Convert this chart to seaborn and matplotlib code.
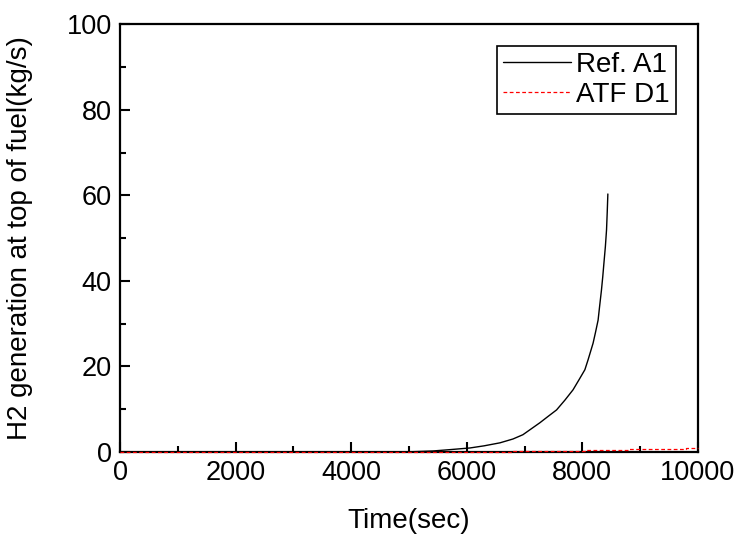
import numpy as np
import pandas as pd
import matplotlib
matplotlib.use('Agg')
import matplotlib.pyplot as plt
import seaborn as sns
from matplotlib.ticker import MultipleLocator

# Ref. A1 curve
ref_time = [0, 5000, 5415, 5700, 6055, 6300, 6574, 6800, 6972, 7266, 7400, 7555,
            7700, 7840, 7950, 8045, 8100, 8187, 8230, 8274, 8300, 8332, 8355,
            8374, 8400, 8420, 8432, 8443]
ref_h2 = [0, 0, 0.2, 0.5, 0.9, 1.4, 2.1, 3.0, 4.0, 6.8, 8.2, 9.8,
          12.1, 14.5, 17.0, 19.2, 21.5, 25.4, 28.0, 30.8, 34.0, 37.8, 41.0,
          44.0, 48.0, 51.9, 56.0, 60.3]

# ATF D1 curve (stepwise, very small)
atf_time = [0, 6800, 8070, 8800, 9000, 9800, 10000]
atf_h2 = [0, 0.15, 0.35, 0.55, 0.75, 1.0, 1.0]

sns.set_theme(style='ticks')
plt.rcParams['font.family'] = ['Liberation Sans', 'DejaVu Sans']
plt.rcParams['text.color'] = 'black'
plt.rcParams['axes.labelcolor'] = 'black'

fig, ax = plt.subplots(figsize=(7.56, 5.51), dpi=100)
fig.subplots_adjust(left=0.159, right=0.923, bottom=0.180, top=0.956)

sns.lineplot(x=ref_time, y=ref_h2, ax=ax, color='black', lw=1.0,
             estimator=None, sort=False, label='Ref. A1')
sns.lineplot(x=atf_time, y=atf_h2, ax=ax, color='red', lw=0.9,
             estimator=None, sort=False, label='ATF D1',
             drawstyle='steps-post', linestyle=(0, (3, 2)),
             clip_on=False, zorder=5)

ax.set_xlim(0, 10000)
ax.set_ylim(0, 100)
ax.xaxis.set_major_locator(MultipleLocator(2000))
ax.xaxis.set_minor_locator(MultipleLocator(1000))
ax.yaxis.set_major_locator(MultipleLocator(20))
ax.yaxis.set_minor_locator(MultipleLocator(10))
ax.tick_params(which='both', direction='in', labelsize=19.5, width=1.5,
               colors='black', labelcolor='black')
ax.tick_params(which='major', length=7, pad=6)
ax.tick_params(which='minor', length=4)

for sp in ax.spines.values():
    sp.set_linewidth(1.6)
    sp.set_color('black')

ax.set_xlabel('Time(sec)', fontsize=20, labelpad=16)
ax.set_ylabel('H2 generation at top of fuel(kg/s)', fontsize=20, labelpad=24)

leg = ax.legend(loc='upper right', fontsize=20, frameon=True, fancybox=False,
                edgecolor='black', handlelength=2.45, handletextpad=0.2,
                borderpad=0.2, labelspacing=0.15, borderaxespad=0.8)
leg.get_frame().set_linewidth(1.2)
leg.get_frame().set_alpha(1)

fig.savefig('out.png', dpi=100)
